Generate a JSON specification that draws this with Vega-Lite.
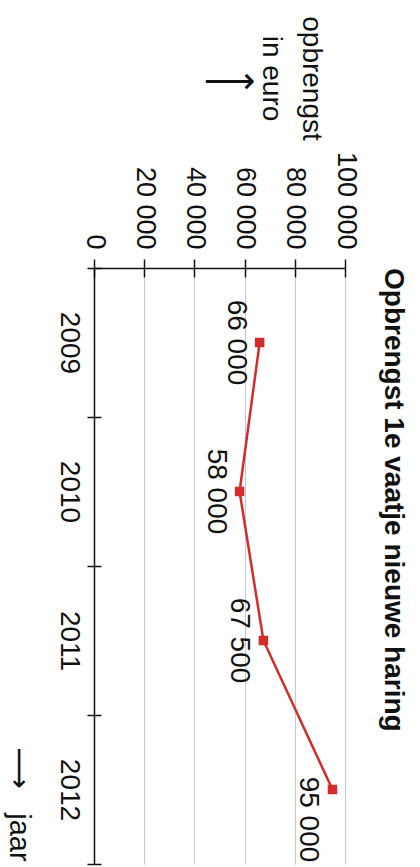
{
  "$schema": "https://vega.github.io/schema/vega-lite/v6.json",
  "width": 251,
  "height": 596,
  "autosize": "none",
  "padding": {"left": 94, "top": 268, "right": 75, "bottom": 3},
  "background": "white",
  "config": {
    "locale": {"number": {"decimal": ",", "thousands": " ", "grouping": [3], "currency": ["€ ", ""]}},
    "view": {"stroke": null},
    "font": "Liberation Sans",
    "axis": {"labelFlush": false, "labelOverlap": false, "domainColor": "#111", "tickColor": "#111", "labelColor": "#111", "titleColor": "#111", "domainWidth": 1.5, "tickWidth": 1.5, "labelFont": "Liberation Sans", "titleFont": "Liberation Sans"}
  },
  "title": {
    "text": "Opbrengst 1e vaatje nieuwe haring",
    "orient": "right",
    "anchor": "start",
    "frame": "group",
    "align": "left",
    "font": "Liberation Sans",
    "fontWeight": "bold",
    "fontSize": 28,
    "color": "#111",
    "offset": 20
  },
  "data": {
    "values": [
      {"jaar": "2009", "opbrengst": 66000},
      {"jaar": "2010", "opbrengst": 58000},
      {"jaar": "2011", "opbrengst": 67500},
      {"jaar": "2012", "opbrengst": 95000}
    ]
  },
  "layer": [
    {
      "mark": {"type": "line", "color": "#d42b2b", "strokeWidth": 2.5},
      "encoding": {
        "x": {
          "field": "opbrengst", "type": "quantitative",
          "scale": {"domain": [0, 100000], "nice": false, "zero": true},
          "axis": {
            "orient": "top", "values": [0, 20000, 40000, 60000, 80000, 100000], "format": ",d",
            "labelAngle": 90, "labelAlign": "right", "labelBaseline": "middle", "labelPadding": 10, "labelFontSize": 27,
            "tickSize": 9, "grid": true, "gridColor": "#c8c8c8", "gridWidth": 1,
            "title": ["opbrengst", "in euro"], "titleAngle": 90, "titleAlign": "center", "titleBaseline": "top",
            "titleX": 230, "titleY": -190, "titleFontSize": 28, "titleFontWeight": "normal", "titleLineHeight": 40
          }
        },
        "y": {
          "field": "jaar", "type": "ordinal",
          "scale": {"type": "band", "paddingInner": 0, "paddingOuter": 0},
          "axis": {
            "orient": "left", "tickBand": "extent", "labelAngle": 90, "labelAlign": "center", "labelBaseline": "top",
            "labelPadding": 5, "labelFontSize": 28, "tickSize": 7,
            "title": "⟶\u00a0\u00a0\u00a0jaar", "titleAngle": 90, "titleAlign": "center", "titleBaseline": "middle",
            "titleX": -76, "titleY": 536, "titleFontSize": 29, "titleFontWeight": "normal",
            "titleFont": "Liberation Sans, DejaVu Sans, sans-serif"
          }
        }
      }
    },
    {
      "mark": {"type": "point", "shape": "square", "filled": true, "color": "#d42b2b", "size": 90, "opacity": 1},
      "encoding": {
        "x": {
          "field": "opbrengst", "type": "quantitative",
          "axis": {
            "orient": "top", "values": [0, 20000, 40000, 60000, 80000, 100000], "labels": false, "domain": false,
            "grid": false, "tickSize": -9,
            "title": "⟶", "titleAngle": 360, "titleFont": "DejaVu Sans", "titleFontSize": 36, "titleFontWeight": "normal",
            "titleAlign": "center", "titleBaseline": "middle", "titleX": 135, "titleY": -187
          }
        },
        "y": {
          "field": "jaar", "type": "ordinal",
          "axis": {"orient": "left", "tickBand": "extent", "labels": false, "domain": false, "grid": false, "tickSize": -7, "title": null}
        }
      }
    },
    {
      "transform": [{"filter": "datum.jaar != '2012'"}],
      "mark": {"type": "text", "angle": 90, "align": "center", "baseline": "top", "dy": 10, "fontSize": 28, "color": "#111"},
      "encoding": {
        "x": {"field": "opbrengst", "type": "quantitative", "axis": null},
        "y": {"field": "jaar", "type": "ordinal", "axis": null},
        "text": {"field": "opbrengst", "type": "quantitative", "format": ",d"}
      }
    },
    {
      "transform": [{"filter": "datum.jaar == '2012'"}],
      "mark": {"type": "text", "angle": 90, "align": "center", "baseline": "top", "dy": 10, "dx": 30, "fontSize": 28, "color": "#111"},
      "encoding": {
        "x": {"field": "opbrengst", "type": "quantitative", "axis": null},
        "y": {"field": "jaar", "type": "ordinal", "axis": null},
        "text": {"field": "opbrengst", "type": "quantitative", "format": ",d"}
      }
    }
  ],
  "resolve": {"axis": {"x": "independent", "y": "independent"}}
}
